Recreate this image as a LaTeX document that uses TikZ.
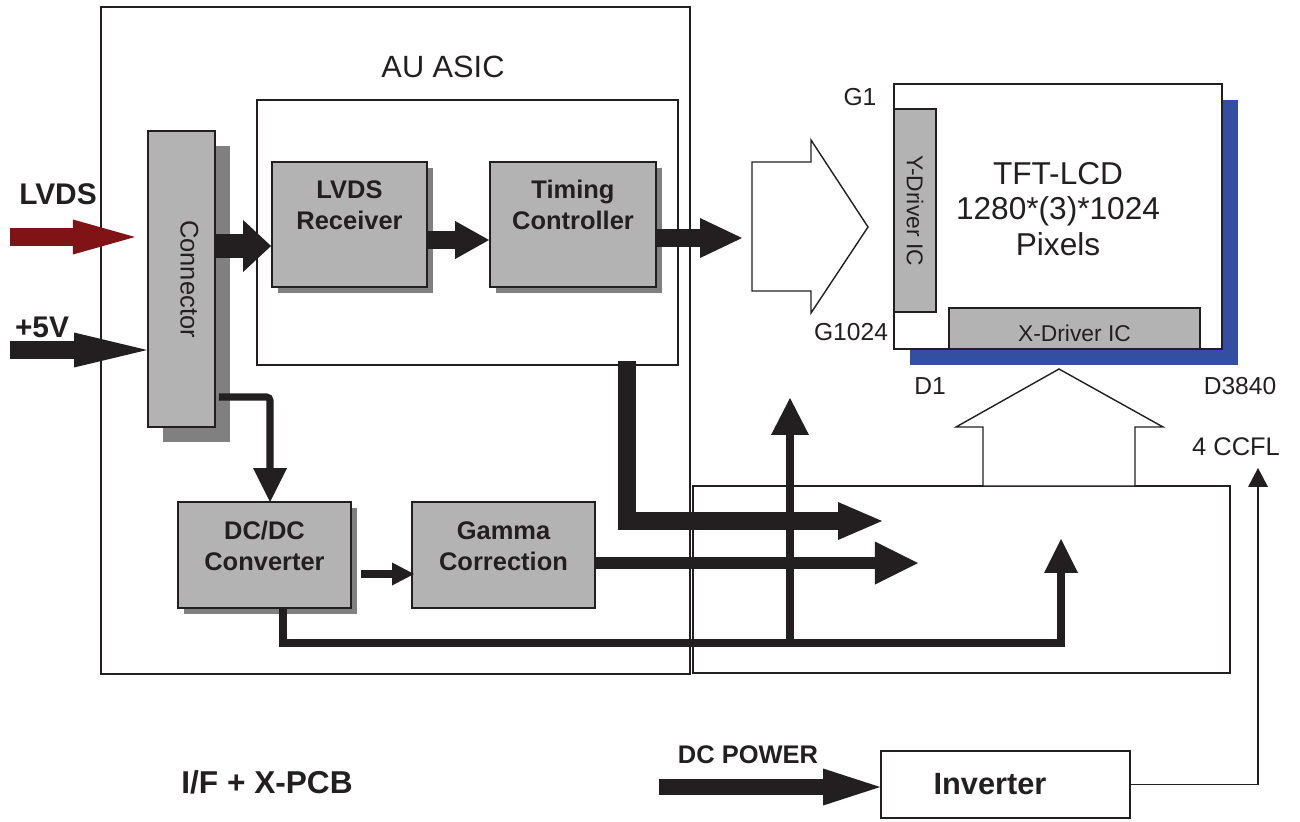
\documentclass[tikz,border=0pt]{standalone}
\usepackage{fontspec}
\setmainfont{Liberation Sans}
\usetikzlibrary{arrows.meta, shadows, calc}
\definecolor{ink}{HTML}{231F20}
\definecolor{boxgray}{HTML}{B3B3B3}
\definecolor{shadowgray}{HTML}{808080}
\definecolor{lcdblue}{HTML}{344FA1}
\definecolor{lvdsred}{HTML}{7F1315}

\begin{document}
\begin{tikzpicture}[x=0.02cm, y=-0.02cm,
    frame/.style={draw=ink, line width=0.8pt, inner sep=0pt},
    blk/.style={draw=ink, line width=1.1pt, fill=boxgray, inner sep=0pt},
    shd/.style={general shadow={fill=shadowgray, shadow xshift=#1, shadow yshift=-#1}},
    blktxt/.style={font=\fontsize{14.5}{17.6}\selectfont\bfseries, align=center, text=ink, inner sep=0pt},
    drvtxt/.style={font=\fontsize{13}{15}\selectfont, text=ink, inner sep=0pt},
    pintxt/.style={font=\fontsize{14}{16}\selectfont, text=ink, inner sep=0pt},
    sigtxt/.style={font=\fontsize{17}{20}\selectfont\bfseries, text=ink, inner sep=0pt},
    fat/.style n args={3}{draw=ink, line width=#1, -{Triangle[length=#2, width=#3, line width=0pt]}},
    hollow/.style={draw=ink, line width=0.8pt, fill=white, line join=miter}]

    \useasboundingbox (0,0) rectangle (1300,821);

    % --- Board outlines ---
    \node[frame, minimum width=11.78cm, minimum height=13.34cm] (asic) at (395.5,340.5) {};
    \node[frame, minimum width=10.74cm, minimum height=3.74cm] (xpcb) at (961.5,579.5) {};
    \node[frame, minimum width=8.42cm, minimum height=5.3cm] (core) at (467.5,232.5) {};
    \node[font=\fontsize{17.5}{20}\selectfont, text=ink] (asiclbl) at (443,67) {AU ASIC};
    \node[font=\fontsize{18}{20}\selectfont\bfseries, text=ink] (pcblbl) at (267,782) {I/F + X-PCB};

    % --- Grey function blocks ---
    \node[blk, shd=8.5pt, minimum width=1.34cm, minimum height=5.92cm,
          label={[name=connt, font=\fontsize{14.5}{17}\selectfont, text=ink, inner sep=0pt,
                  xshift=0.16cm, rotate=-90]center:Connector}] (conn) at (181.5,279) {};
    \node[blk, shd=3.4pt, minimum width=3.1cm, minimum height=2.5cm,
          label={[name=rxt, blktxt, yshift=0.39cm]center:LVDS\\Receiver}] (rx) at (349.5,224.5) {};
    \node[blk, shd=3.4pt, minimum width=3.32cm, minimum height=2.5cm,
          label={[name=tct, blktxt, yshift=0.39cm]center:Timing\\Controller}] (tc) at (573,224.5) {};
    \node[blk, shd=3.4pt, minimum width=3.46cm, minimum height=2.12cm,
          label={[name=dcdct, blktxt, yshift=0.18cm]center:DC/DC\\Converter}] (dcdc) at (264.5,555) {};
    \node[blk, minimum width=3.66cm, minimum height=2.12cm,
          label={[name=gamt, blktxt, yshift=0.18cm]center:Gamma\\Correction}] (gam) at (503.5,555) {};

    % --- Panel with its drivers ---
    \node[draw=ink, line width=1.1pt, fill=white, inner sep=0pt,
          general shadow={fill=lcdblue, shadow xshift=9.1pt, shadow yshift=-9.1pt},
          minimum width=6.56cm, minimum height=5.3cm,
          label={[name=lcdt, font=\fontsize{18}{20}\selectfont, align=center, text=ink,
                  inner sep=0pt, yshift=0.15cm]center:TFT-LCD\\1280*(3)*1024\\Pixels}] (lcd) at (1058,216.5) {};
    \node[blk, minimum width=0.84cm, minimum height=4.06cm,
          label={[name=ydrvt, drvtxt, rotate=-90]center:Y-Driver IC}] (ydrv) at (915,210.5) {};
    \node[blk, minimum width=5.02cm, minimum height=0.82cm,
          label={[name=xdrvt, drvtxt, yshift=-0.09cm]center:X-Driver IC}] (xdrv) at (1074.5,328.5) {};
    \node[pintxt] (g1lbl) at (860,97) {G1};
    \node[pintxt] (g1024lbl) at (851,332) {G1024};
    \node[pintxt] (d1lbl) at (930,386) {D1};
    \node[pintxt] (d3840lbl) at (1240,386) {D3840};

    % --- Backlight inverter ---
    \node[frame, line width=1pt, minimum width=4.98cm, minimum height=1.34cm,
          label={[name=invt, font=\fontsize{17.5}{20}\selectfont\bfseries, text=ink,
                  inner sep=0pt, xshift=-0.31cm]center:Inverter}] (inv) at (1005.5,784.5) {};
    \node[font=\fontsize{14.5}{17}\selectfont, text=ink] (ccfllbl) at (1236,447) {4 CCFL};
    \node[font=\fontsize{14.5}{17}\selectfont\bfseries, text=ink] (dcplbl) at (748,755) {DC POWER};

    % --- Hollow bus arrows into the panel ---
    \draw[hollow] (752,162) -- (811,162) -- (811,140) -- (868,227) -- (811,313) -- (811,291) -- (752,291) -- cycle;
    \draw[hollow] (983,486) -- (983,427) -- (956,427) -- (1059,369) -- (1163,427) -- (1135,427) -- (1135,486) -- cycle;

    % --- Inputs ---
    \node[sigtxt] (lvdslbl) at (58,194) {LVDS};
    \node[sigtxt] (p5lbl) at (42,327) {+5V};
    \coordinate (lvdsin) at (10,237);
    \coordinate (lvdstip) at (135,237);
    \draw[fat={10.2pt}{35.3pt}{19.9pt}, draw=lvdsred] (lvdsin) -- (lvdstip);
    \coordinate (p5in) at (10,350);
    \draw[fat={9.7pt}{41.5pt}{19.9pt}] (p5in) -- (p5in -| conn.west);

    % --- Data path ---
    \coordinate (rxin) at ($(rx.west)+(0,21.5)$);
    \draw[fat={13.1pt}{15.9pt}{29.6pt}] (rxin -| conn.east) -- (rxin);
    \coordinate (tcin) at ($(tc.west)+(0,15.5)$);
    \draw[fat={10.2pt}{19.3pt}{21.6pt}] (tcin -| rx.east) -- (tcin);
    \coordinate (tcout) at (742,238);
    \draw[fat={10.8pt}{23.9pt}{22.8pt}] (tcout -| tc.east) -- (tcout);
    \coordinate (tcdn) at (627,361);
    \coordinate (srcdrv) at (882,521);
    \draw[fat={9.7pt}{25pt}{21.6pt}] (tcdn) |- (srcdrv);
    \coordinate (gamout) at (918,563);
    \draw[fat={7pt}{24.5pt}{24.5pt}] (gamout -| gam.east) -- (gamout);

    % --- Power path ---
    \coordinate (connlow) at ($(conn.east)+(3,118)$);
    \coordinate (dcin) at (270,502);
    \draw[fat={4pt}{19.3pt}{19.3pt}, rounded corners=2pt] (connlow) -| (dcin);
    \coordinate (dcout) at (361,574);
    \coordinate (gamin) at (414,574);
    \draw[fat={4.6pt}{12.5pt}{13.1pt}] (dcout) -- (gamin);
    \coordinate (dcdn) at ($(dcdc.south)+(18.5,0)$);
    \coordinate (rail) at (790,643);
    \coordinate (pwrR) at (1061,539);
    \coordinate (pwrM) at (790,398);
    \draw[fat={4.8pt}{19.3pt}{19.3pt}] (dcdn) |- (rail) -| (pwrR);
    \draw[fat={4.2pt}{21pt}{21.6pt}] (rail) -- (pwrM);

    % --- Backlight ---
    \coordinate (ccfl) at (1258,468);
    \draw[fat={0.85pt}{10.8pt}{11.4pt}] (inv.east) -| (ccfl);
    \coordinate (dcpin) at (659,787);
    \draw[fat={9.1pt}{32.4pt}{21pt}] (dcpin) -- (dcpin -| inv.west);

\end{tikzpicture}
\end{document}
